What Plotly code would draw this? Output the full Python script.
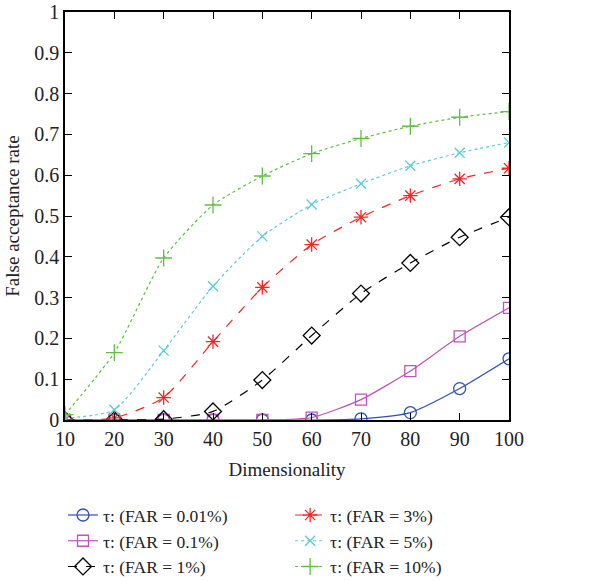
import plotly.graph_objects as go

dims = [10, 20, 30, 40, 50, 60, 70, 80, 90, 100]
far_001 = [0, 0, 0, 0, 0, 0, 0.003, 0.018, 0.077, 0.150]
far_01 = [0, 0, 0, 0, 0, 0.006, 0.050, 0.120, 0.205, 0.275]
far_1 = [0, 0, 0.002, 0.021, 0.098, 0.207, 0.310, 0.385, 0.448, 0.497]
far_3 = [0, 0.005, 0.055, 0.192, 0.325, 0.430, 0.497, 0.550, 0.591, 0.617]
far_5 = [0.004, 0.025, 0.170, 0.328, 0.450, 0.528, 0.579, 0.623, 0.655, 0.680]
far_10 = [0.013, 0.165, 0.397, 0.527, 0.598, 0.653, 0.690, 0.720, 0.742, 0.756]
names = ["τ: (FAR = 0.01%)", "τ: (FAR = 0.1%)", "τ: (FAR = 1%)",
         "τ: (FAR = 3%)", "τ: (FAR = 5%)", "τ: (FAR = 10%)"]
yticks = [0, 0.1, 0.2, 0.3, 0.4, 0.5, 0.6, 0.7, 0.8, 0.9, 1]
ytext = ["0", "0.1", "0.2", "0.3", "0.4", "0.5", "0.6", "0.7", "0.8", "0.9", "1"]

series = [far_001, far_01, far_1, far_3, far_5, far_10]
colors = ["#2f4fb5", "#c052b8", "#000000", "#f22626", "#5ccbd8", "#5fbf3f"]
dashes = ["solid", "solid", "dash", "dash", "dot", "dot"]
symbols = ["circle-open", "square-open", "diamond-open", "asterisk-open",
           "x-thin-open", "cross-thin-open"]
sizes = [12, 11, 13, 12, 10, 12]
legends = ["legend", "legend", "legend", "legend2", "legend2", "legend2"]

FONT = "Liberation Serif"
TXT = "#222"
fig = go.Figure()
for ys, nm, c, d, s, sz, lg in zip(series, names, colors, dashes, symbols, sizes, legends):
    fig.add_trace(go.Scatter(
        x=dims, y=ys, name=nm, mode="lines+markers",
        line=dict(color=c, dash=d, width=1.2, shape="spline", smoothing=0.6),
        marker=dict(symbol=s, size=sz, color=c, line=dict(color=c, width=1.3)),
        legend=lg,
    ))

axis_common = dict(showline=True, linecolor="black", linewidth=1.5, mirror="ticks",
                   ticks="inside", ticklen=7, tickcolor="black", tickwidth=1.2,
                   showgrid=False, zeroline=False, automargin=False,
                   tickfont=dict(family=FONT, size=20, color=TXT))
fig.update_xaxes(range=[10, 100], tickvals=dims, title=dict(text="Dimensionality",
                 font=dict(family=FONT, size=19, color=TXT), standoff=14), **axis_common)
fig.update_yaxes(range=[0, 1], tickvals=yticks, ticktext=ytext,
                 title=dict(text="False acceptance rate", font=dict(family=FONT, size=19, color=TXT),
                            standoff=10), **axis_common)

leg_common = dict(font=dict(family=FONT, size=17.5, color=TXT), bgcolor="rgba(0,0,0,0)",
                  orientation="v", xanchor="left", yanchor="top", tracegroupgap=0,
                  itemwidth=30)
fig.update_layout(
    width=611, height=581,
    margin=dict(l=65, r=102, t=12, b=161, autoexpand=False),
    plot_bgcolor="white", paper_bgcolor="white",
    font=dict(family=FONT, size=19, color=TXT),
    legend=dict(x=-0.0045, y=-0.189, **leg_common),
    legend2=dict(x=0.507, y=-0.189, **leg_common),
)
fig.write_html("out.html", config={"displayModeBar": False},
               post_script="document.body.style.margin='0';")
